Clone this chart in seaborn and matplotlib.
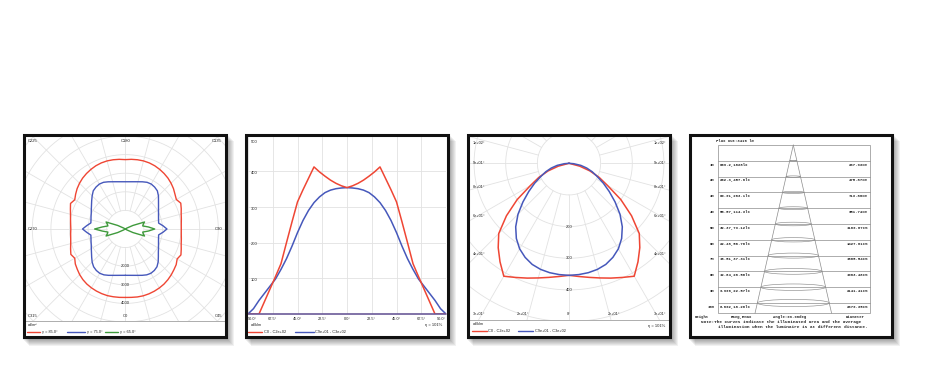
import numpy as np
import pandas as pd
import seaborn as sns
import matplotlib.pyplot as plt
from matplotlib.patches import Rectangle, Ellipse
from matplotlib.lines import Line2D

# ---- panel 1: polar curves per C-plane (5 deg steps), values in cd/m2
c_planes = list(range(0, 360, 5))
gamma_85 = [3680, 3690, 3710, 3720, 3710, 3690, 3660, 3620, 3560, 3490, 3410, 3340, 3220, 3300, 3200, 3110, 3060, 3020,
            3010, 3020, 3060, 3110, 3200, 3290, 3170, 3260, 3380, 3480, 3570, 3640, 3700, 3750, 3780, 3790, 3780, 3760,
            3730, 3760, 3780, 3790, 3780, 3750, 3700, 3640, 3570, 3480, 3380, 3260, 3140, 3250, 3140, 3050, 2990, 2950,
            2930, 2950, 2980, 3040, 3130, 3230, 3140, 3280, 3370, 3470, 3550, 3610, 3650, 3680, 3700, 3710, 3700, 3690]
gamma_75 = [2490, 2500, 2530, 2580, 2650, 2720, 2750, 2720, 2650, 2500, 2320, 2170, 2060, 1970, 1900, 1850, 1820, 2030,
            2240, 2030, 1820, 1850, 1900, 1970, 2060, 2180, 2330, 2520, 2680, 2750, 2790, 2770, 2700, 2630, 2580, 2550,
            2540, 2550, 2580, 2630, 2700, 2770, 2790, 2750, 2680, 2520, 2360, 2220, 2110, 2020, 1960, 1910, 1880, 2080,
            2300, 2080, 1880, 1910, 1960, 2020, 2110, 2220, 2360, 2520, 2650, 2720, 2750, 2720, 2650, 2580, 2530, 2500]
gamma_65 = [0, 0, 0, 0, 0, 0, 0, 0, 0, 0, 0, 0, 100, 450, 1100, 1000, 950, 1250,
            1580, 1250, 950, 1000, 1100, 450, 100, 0, 0, 0, 0, 0, 0, 0, 0, 0, 0, 0,
            0, 0, 0, 0, 0, 0, 0, 0, 0, 0, 0, 0, 100, 450, 1100, 1000, 950, 1250,
            1650, 1250, 950, 1000, 1100, 450, 100, 0, 0, 0, 0, 0, 0, 0, 0, 0, 0, 0]
c_labels = ['C225', 'C180', 'C135', 'C270', 'C90', 'C315', 'C0', 'C45']
p1_rings = [2000, 3000, 4000]

# ---- panels 2 and 3: intensity distribution, cd/klm
gamma_angles = list(range(-90, 95, 5))
c0_c180 = [0, 0, 0, 35, 70, 105, 141, 200, 258, 314, 348, 380, 412, 398, 386, 375, 366, 359,
           354,
           359, 366, 375, 386, 398, 412, 380, 348, 314, 258, 200, 141, 105, 70, 35, 0, 0, 0]
c90_c270 = [0, 15, 38, 58, 78, 98, 125, 155, 190, 228, 262, 290, 312, 328, 340, 347, 351, 353,
            354,
            353, 351, 347, 340, 328, 312, 290, 262, 228, 190, 155, 125, 98, 78, 58, 38, 15, 0]
p3_rings = [200, 300, 400]
p3_side_angles = [105, 90, 75, 60, 45]

# ---- panel 4: illuminance by mounting height
heights = [1, 2, 3, 4, 5, 6, 7, 8, 9, 10]
e_avg = ['809.2', '202.3', '89.91', '50.57', '32.37', '22.48', '16.51', '12.64', '9.990', '8.092']
e_max = ['1828', '457.0', '203.1', '114.3', '73.12', '50.78', '37.31', '28.56', '22.57', '18.28']
diameters = ['237.93', '475.87', '713.80', '951.74', '1189.67', '1427.61', '1665.54', '1903.48', '2141.41', '2379.35']

RED = '#ef4634'
BLUE = '#4658bb'
GREEN = '#3f9a3c'
GRID = '#e2e2e2'
TXT = '#222222'

W, H = 927, 376
sns.set_style('white')
plt.rcParams['font.family'] = ['Liberation Sans', 'DejaVu Sans']

fig = plt.figure(figsize=(W / 100, H / 100), dpi=100)


def box(x0, y0, x1, y1):
    return [x0 / W, 1 - y1 / H, (x1 - x0) / W, (y1 - y0) / H]


def frect(x0, y0, x1, y1, **kw):
    r = Rectangle((x0 / W, 1 - y1 / H), (x1 - x0) / W, (y1 - y0) / H, transform=fig.transFigure, **kw)
    return r


def txt(x, y, s, size=3.0, ha='left', **kw):
    fig.text(x / W, 1 - y / H, s, fontsize=size, ha=ha, va='center', color=TXT, **kw)


def hline(x0, x1, y, color, lw):
    fig.add_artist(Line2D([x0 / W, x1 / W], [1 - y / H, 1 - y / H], color=color, lw=lw,
                          transform=fig.transFigure, zorder=4))


def legend_item(x0, x1, y, color, label):
    hline(x0, x1, y, color, 1.0)
    txt(x1 + 1.8, y, label, size=2.8)


# frames with a soft shadow
panels = [(22, 133), (244, 133), (466, 133), (688, 133)]
PW, PH = 205, 205
for x0, y0 in panels:
    for k in range(1, 8):
        fig.add_artist(frect(x0 + k, y0 + k + 1, x0 + PW + k, y0 + PH + k + 1, facecolor='black',
                             alpha=0.055, edgecolor='none', zorder=-3))
    fig.add_artist(frect(x0, y0, x0 + PW, y0 + PH, facecolor='white', edgecolor='none', zorder=-1))
    fig.add_artist(frect(x0 + 1.5, y0 + 1.5, x0 + PW - 1.5, y0 + PH - 1.5, facecolor='none',
                         edgecolor='#111111', lw=2.2, zorder=6))


def polar_panel(cx, cy, R, rmax, rings, r0):
    ax = fig.add_axes(box(cx - R, cy - R, cx + R, cy + R), projection='polar')
    ax.set_theta_zero_location('S')
    ax.set_theta_direction(1)
    ax.grid(False)
    ax.set_xticks([])
    ax.set_yticks([])
    ax.spines['polar'].set_visible(False)
    ax.patch.set_visible(False)
    th = np.linspace(0, 2 * np.pi, 361)
    for r in rings:
        ax.plot(th, np.full_like(th, r), color=GRID, lw=0.6)
    for a in range(0, 360, 15):
        ax.plot([np.deg2rad(a)] * 2, [r0, rmax], color=GRID, lw=0.6)
    ax.set_ylim(0, rmax)
    return ax


def clip_lines(ax, x0, y0, x1, y1):
    rect = frect(x0, y0, x1, y1)
    for ln in ax.lines:
        ln.set_clip_path(rect)


# ---------------- panel 1
ax1 = polar_panel(125.3, 229, 150, 150 / 0.0186, range(1000, 9000, 1000), 1000)
df1 = pd.DataFrame({'theta': np.deg2rad(c_planes + [360]),
                    'g85': gamma_85 + gamma_85[:1],
                    'g75': gamma_75 + gamma_75[:1],
                    'g65': gamma_65 + gamma_65[:1]})
for col, color in [('g85', RED), ('g75', BLUE), ('g65', GREEN)]:
    sns.lineplot(data=df1, x='theta', y=col, ax=ax1, color=color, lw=1.0, sort=False, estimator=None)
ax1.set_xlabel('')
ax1.set_ylabel('')
ax1.set_ylim(0, 150 / 0.0186)
clip_lines(ax1, 26, 136.5, 224.5, 320.5)
for v in p1_rings:
    ax1.text(0, v, str(v), fontsize=3.0, ha='center', va='center', color=TXT)

label_pos = [(28, 141, 'left'), (125.3, 141, 'center'), (222, 141, 'right'),
             (28, 229, 'left'), (222, 229, 'right'),
             (28, 316, 'left'), (125.3, 316, 'center'), (222, 316, 'right')]
for (x, y, ha), s in zip(label_pos, c_labels):
    txt(x, y, s, ha=ha)
hline(25, 225, 320.7, '#a0a0a0', 0.6)
txt(28, 324.5, 'cd/m²', size=2.8)
legend_item(27, 40, 331.7, RED, 'γ = 85.0°')
legend_item(66.5, 85, 331.7, BLUE, 'γ = 75.0°')
legend_item(105, 118, 331.7, GREEN, 'γ = 65.0°')

# ---------------- panel 2
ax2 = fig.add_axes(box(248, 135.5, 446, 314))
df2 = pd.DataFrame({'gamma': gamma_angles, 'c0': c0_c180, 'c90': c90_c270})
sns.lineplot(data=df2, x='gamma', y='c90', ax=ax2, color=BLUE, lw=1.1, estimator=None)
sns.lineplot(data=df2, x='gamma', y='c0', ax=ax2, color=RED, lw=1.1, estimator=None)
ax2.set_xlim(-90, 90)
ax2.set_ylim(0, 500)
ax2.set_xticks(np.arange(-90, 91, 22.5))
ax2.set_yticks(range(0, 501, 100))
ax2.grid(True, color=GRID, lw=0.6)
ax2.tick_params(length=0, labelbottom=False, labelleft=False)
ax2.set_xlabel('')
ax2.set_ylabel('')
ax2.patch.set_visible(False)
for s in ax2.spines.values():
    s.set_visible(False)
ax2.axhline(0, color='#6b5a98', lw=1.2, clip_on=False)
for v in range(100, 501, 100):
    ax2.annotate(str(v), (-87.5, v), xytext=(0, -1.2 if v < 500 else -4.4), textcoords='offset points',
                 fontsize=3.0, ha='left', va='center', color=TXT)
ticks = list(np.arange(-90, 91, 22.5))
for i, t in enumerate(ticks):
    ha = 'left' if i == 0 else ('right' if i == len(ticks) - 1 else 'center')
    ax2.annotate(f'{abs(t):.1f}°', (t, 0), xytext=(0, -3.6), textcoords='offset points',
                 fontsize=2.8, ha=ha, va='center', color=TXT, annotation_clip=False)
txt(251, 324.5, 'cd/klm', size=2.8)
txt(442, 325, 'η = 101%', size=3.0, ha='right')
legend_item(248, 262, 331.7, RED, 'C0 - C2e+02')
legend_item(295, 313.5, 331.7, BLUE, 'C9e+01 - C3e+02')

# ---------------- panel 3
ax3 = polar_panel(569, 163.3, 200, 200 / 0.3165, range(100, 700, 100), 100)
df3 = pd.DataFrame({'theta': np.deg2rad(gamma_angles), 'c0': c0_c180, 'c90': c90_c270})
sns.lineplot(data=df3, x='theta', y='c0', ax=ax3, color=RED, lw=1.1, sort=False, estimator=None)
sns.lineplot(data=df3, x='theta', y='c90', ax=ax3, color=BLUE, lw=1.1, sort=False, estimator=None)
ax3.set_xlabel('')
ax3.set_ylabel('')
ax3.set_ylim(0, 200 / 0.3165)
clip_lines(ax3, 470, 136.5, 669.5, 319.5)
for v in p3_rings:
    ax3.text(0, v, str(v), fontsize=3.0, ha='center', va='center', color=TXT)
side_y = [142.7, 163.3, 187.3, 216, 254]
for a, y in zip(p3_side_angles, side_y):
    txt(473, y, f'{a:.0e}°', size=2.8)
    txt(666, y, f'{a:.0e}°', size=2.8, ha='right')
for x, a, ha in [(473, 30, 'left'), (523, 15, 'center'), (569, 0, 'center'), (614, 15, 'center'),
                 (666, 30, 'right')]:
    txt(x, 314, f'{a:.0e}°' if a else '0°', size=2.8, ha=ha)
hline(469, 671, 319.5, '#a0a0a0', 0.6)
txt(473, 324.3, 'cd/klm', size=2.8)
txt(665, 326, 'η = 101%', size=3.0, ha='right')
legend_item(471.5, 486.5, 331, RED, 'C0 - C2e+02')
legend_item(518, 533, 331, BLUE, 'C9e+01 - C3e+02')

# ---------------- panel 4
ax4 = fig.add_axes(box(691, 136, 888, 336))
ax4.set_xlim(691, 888)
ax4.set_ylim(336, 136)
ax4.axis('off')
top, step = 145.0, 15.8
left, right = 718.0, 869.7
bottom = 313.3
apex = 793.3
spread = 0.2276
mono = dict(family='Liberation Mono', weight='bold', color=TXT)
LC = '#8c8c8c'
ax4.add_patch(Rectangle((left, top), right - left, bottom - top, fill=False, edgecolor=LC, lw=0.5))
ax4.plot([apex, apex - spread * (bottom - top)], [top, bottom], color=LC, lw=0.5)
ax4.plot([apex, apex + spread * (bottom - top)], [top, bottom], color=LC, lw=0.5)
for d, ea, em, dia in zip(heights, e_avg, e_max, diameters):
    y = top + d * step
    hw = spread * d * step
    ax4.plot([left, right], [y, y], color=LC, lw=0.5)
    ax4.add_patch(Ellipse((apex, y), 2 * hw, 0.2 * hw, fill=False, edgecolor=LC, lw=0.45))
    ax4.text(714.7, y + 3.8, f'{d}m', fontsize=2.8, ha='right', va='center', **mono)
    ax4.text(719.5, y + 3.8, f'{ea},{em}lx', fontsize=2.8, ha='left', va='center', **mono)
    ax4.text(868, y + 3.8, f'{dia}cm', fontsize=2.8, ha='right', va='center', **mono)
ax4.text(716, 140.5, 'Flux out:3410 lm', fontsize=2.8, ha='left', va='center', **mono)
for x, s in [(702, 'Height'), (741, 'Eavg,Emax'), (790, 'Angle:99.90deg'), (855, 'Diameter')]:
    ax4.text(x, 317, s, fontsize=2.8, ha='center', va='center', **mono)
ax4.text(701, 321.8, 'Note:The Curves indicate the illuminated area and the average',
         fontsize=3.2, ha='left', va='center', **mono)
ax4.text(718, 326.8, 'illumination when the luminaire is at different distance.',
         fontsize=3.2, ha='left', va='center', **mono)

fig.savefig('out.png', dpi=100)
